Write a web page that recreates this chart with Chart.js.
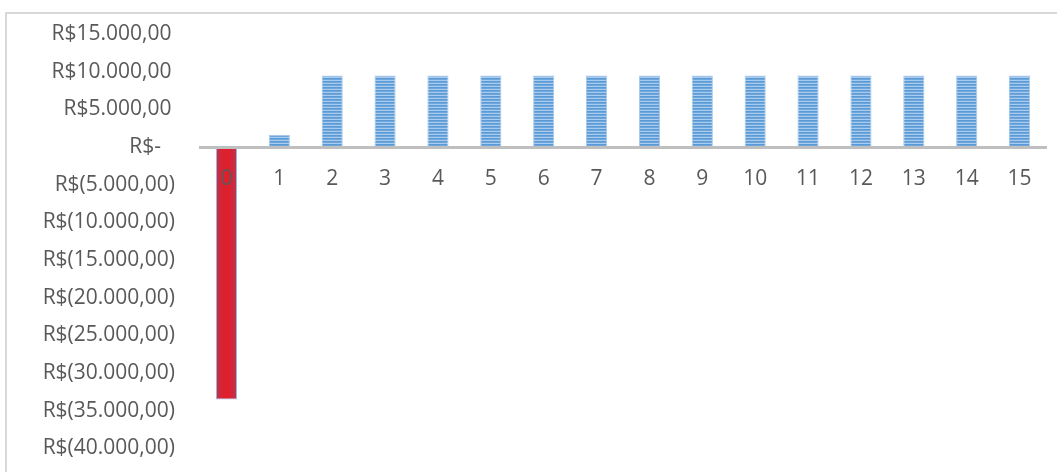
<!DOCTYPE html>
<html>
<head>
<meta charset="utf-8">
<script src="https://cdn.jsdelivr.net/npm/chart.js@4"></script>
<style>
    html, body { margin: 0; padding: 0; background: #ffffff; }
    #wrap { width: 1057px; height: 472px; position: relative; }
</style>
</head>
<body>
<div id="wrap"><canvas id="fluxoChart"></canvas></div>
<script>
const periodos = ['0', '1', '2', '3', '4', '5', '6', '7', '8', '9', '10', '11', '12', '13', '14', '15'];
const fluxoCaixa = [-33500, 1600, 9500, 9500, 9500, 9500, 9500, 9500, 9500, 9500, 9500, 9500, 9500, 9500, 9500, 9500];
const yTickValues = [15000, 10000, 5000, 0, -5000, -10000, -15000, -20000, -25000, -30000, -35000, -40000];
const yTickLabels = ['R$15.000,00', 'R$10.000,00', 'R$5.000,00', 'R$-', 'R$(5.000,00)', 'R$(10.000,00)', 'R$(15.000,00)',
    'R$(20.000,00)', 'R$(25.000,00)', 'R$(30.000,00)', 'R$(35.000,00)', 'R$(40.000,00)'];

const canvas = document.getElementById('fluxoChart');
const ctx = canvas.getContext('2d');

// horizontal stripes for the positive bars
function stripePattern() {
    const tile = document.createElement('canvas');
    tile.width = 4;
    tile.height = 3;
    const t = tile.getContext('2d');
    t.fillStyle = '#5b9bd5';
    t.fillRect(0, 0, 4, 1);
    t.fillStyle = '#6fa6dc';
    t.fillRect(0, 1, 4, 1);
    t.fillStyle = '#a9cbed';
    t.fillRect(0, 2, 4, 1);
    return ctx.createPattern(tile, 'repeat');
}
const bluePattern = stripePattern();

function redFill(context) {
    const chart = context.chart;
    const x = chart.scales.x ? chart.scales.x.getPixelForValue(context.index) : NaN;
    if (!isFinite(x)) return '#dc2230';
    const half = 11;
    const g = chart.ctx.createLinearGradient(x - half, 0, x + half, 0);
    g.addColorStop(0, '#b0395e');
    g.addColorStop(0.3, '#d8232f');
    g.addColorStop(0.5, '#e01e2b');
    g.addColorStop(0.7, '#d8232f');
    g.addColorStop(1, '#b0395e');
    return g;
}

// light frame of the chart (only top and left edges fall inside the canvas)
const framePlugin = {
    id: 'frame',
    beforeDraw(chart) {
        const c = chart.ctx;
        c.save();
        c.fillStyle = '#ffffff';
        c.fillRect(0, 0, chart.width, chart.height);
        c.strokeStyle = '#d9d9d9';
        c.lineWidth = 2;
        c.strokeRect(6, 13, chart.width + 20, chart.height + 20);
        c.restore();
    }
};

new Chart(canvas, {
    type: 'bar',
    data: {
        labels: periodos,
        datasets: [{
            data: fluxoCaixa,
            backgroundColor: context => context.raw < 0 ? redFill(context) : bluePattern,
            borderColor: context => context.raw < 0 ? '#9ab9e4' : 'rgba(160, 195, 232, 0.9)',
            borderWidth: 1,
            borderSkipped: false,
            categoryPercentage: 1.0,
            barPercentage: 0.4
        }]
    },
    options: {
        responsive: true,
        maintainAspectRatio: false,
        animation: false,
        layout: {
            padding: { top: 34, bottom: 23.5, left: 0, right: 11 }
        },
        scales: {
            x: {
                position: { y: 0 },
                offset: true,
                afterFit: scale => { scale.height = 0; },
                grid: { display: false, drawTicks: false },
                border: { display: true, color: '#bfbfbf', width: 3, z: 1 },
                ticks: {
                    z: 1,
                    padding: 19,
                    color: '#595959',
                    font: { family: "'Open Sans', sans-serif", size: 21 },
                    maxRotation: 0,
                    minRotation: 0
                }
            },
            y: {
                min: -40000,
                max: 15000,
                grid: { display: false, drawTicks: false },
                border: { display: false },
                // fixed label column; the outer padding alone sets the plot height
                afterFit: scale => {
                    scale.width = 200;
                    scale.paddingTop = 0;
                    scale.paddingBottom = 0;
                },
                ticks: {
                    stepSize: 5000,
                    padding: 25,
                    color: '#595959',
                    font: { family: "'Open Sans', sans-serif", size: 21 },
                    callback: value => {
                        const label = yTickLabels[yTickValues.indexOf(value)];
                        if (value > 0) return label + '\u2009';
                        if (value === 0) return label + '\u2002\u2009';
                        return label;
                    }
                }
            }
        },
        plugins: {
            legend: { display: false },
            tooltip: { enabled: false }
        }
    },
    plugins: [framePlugin]
});
</script>
</body>
</html>
